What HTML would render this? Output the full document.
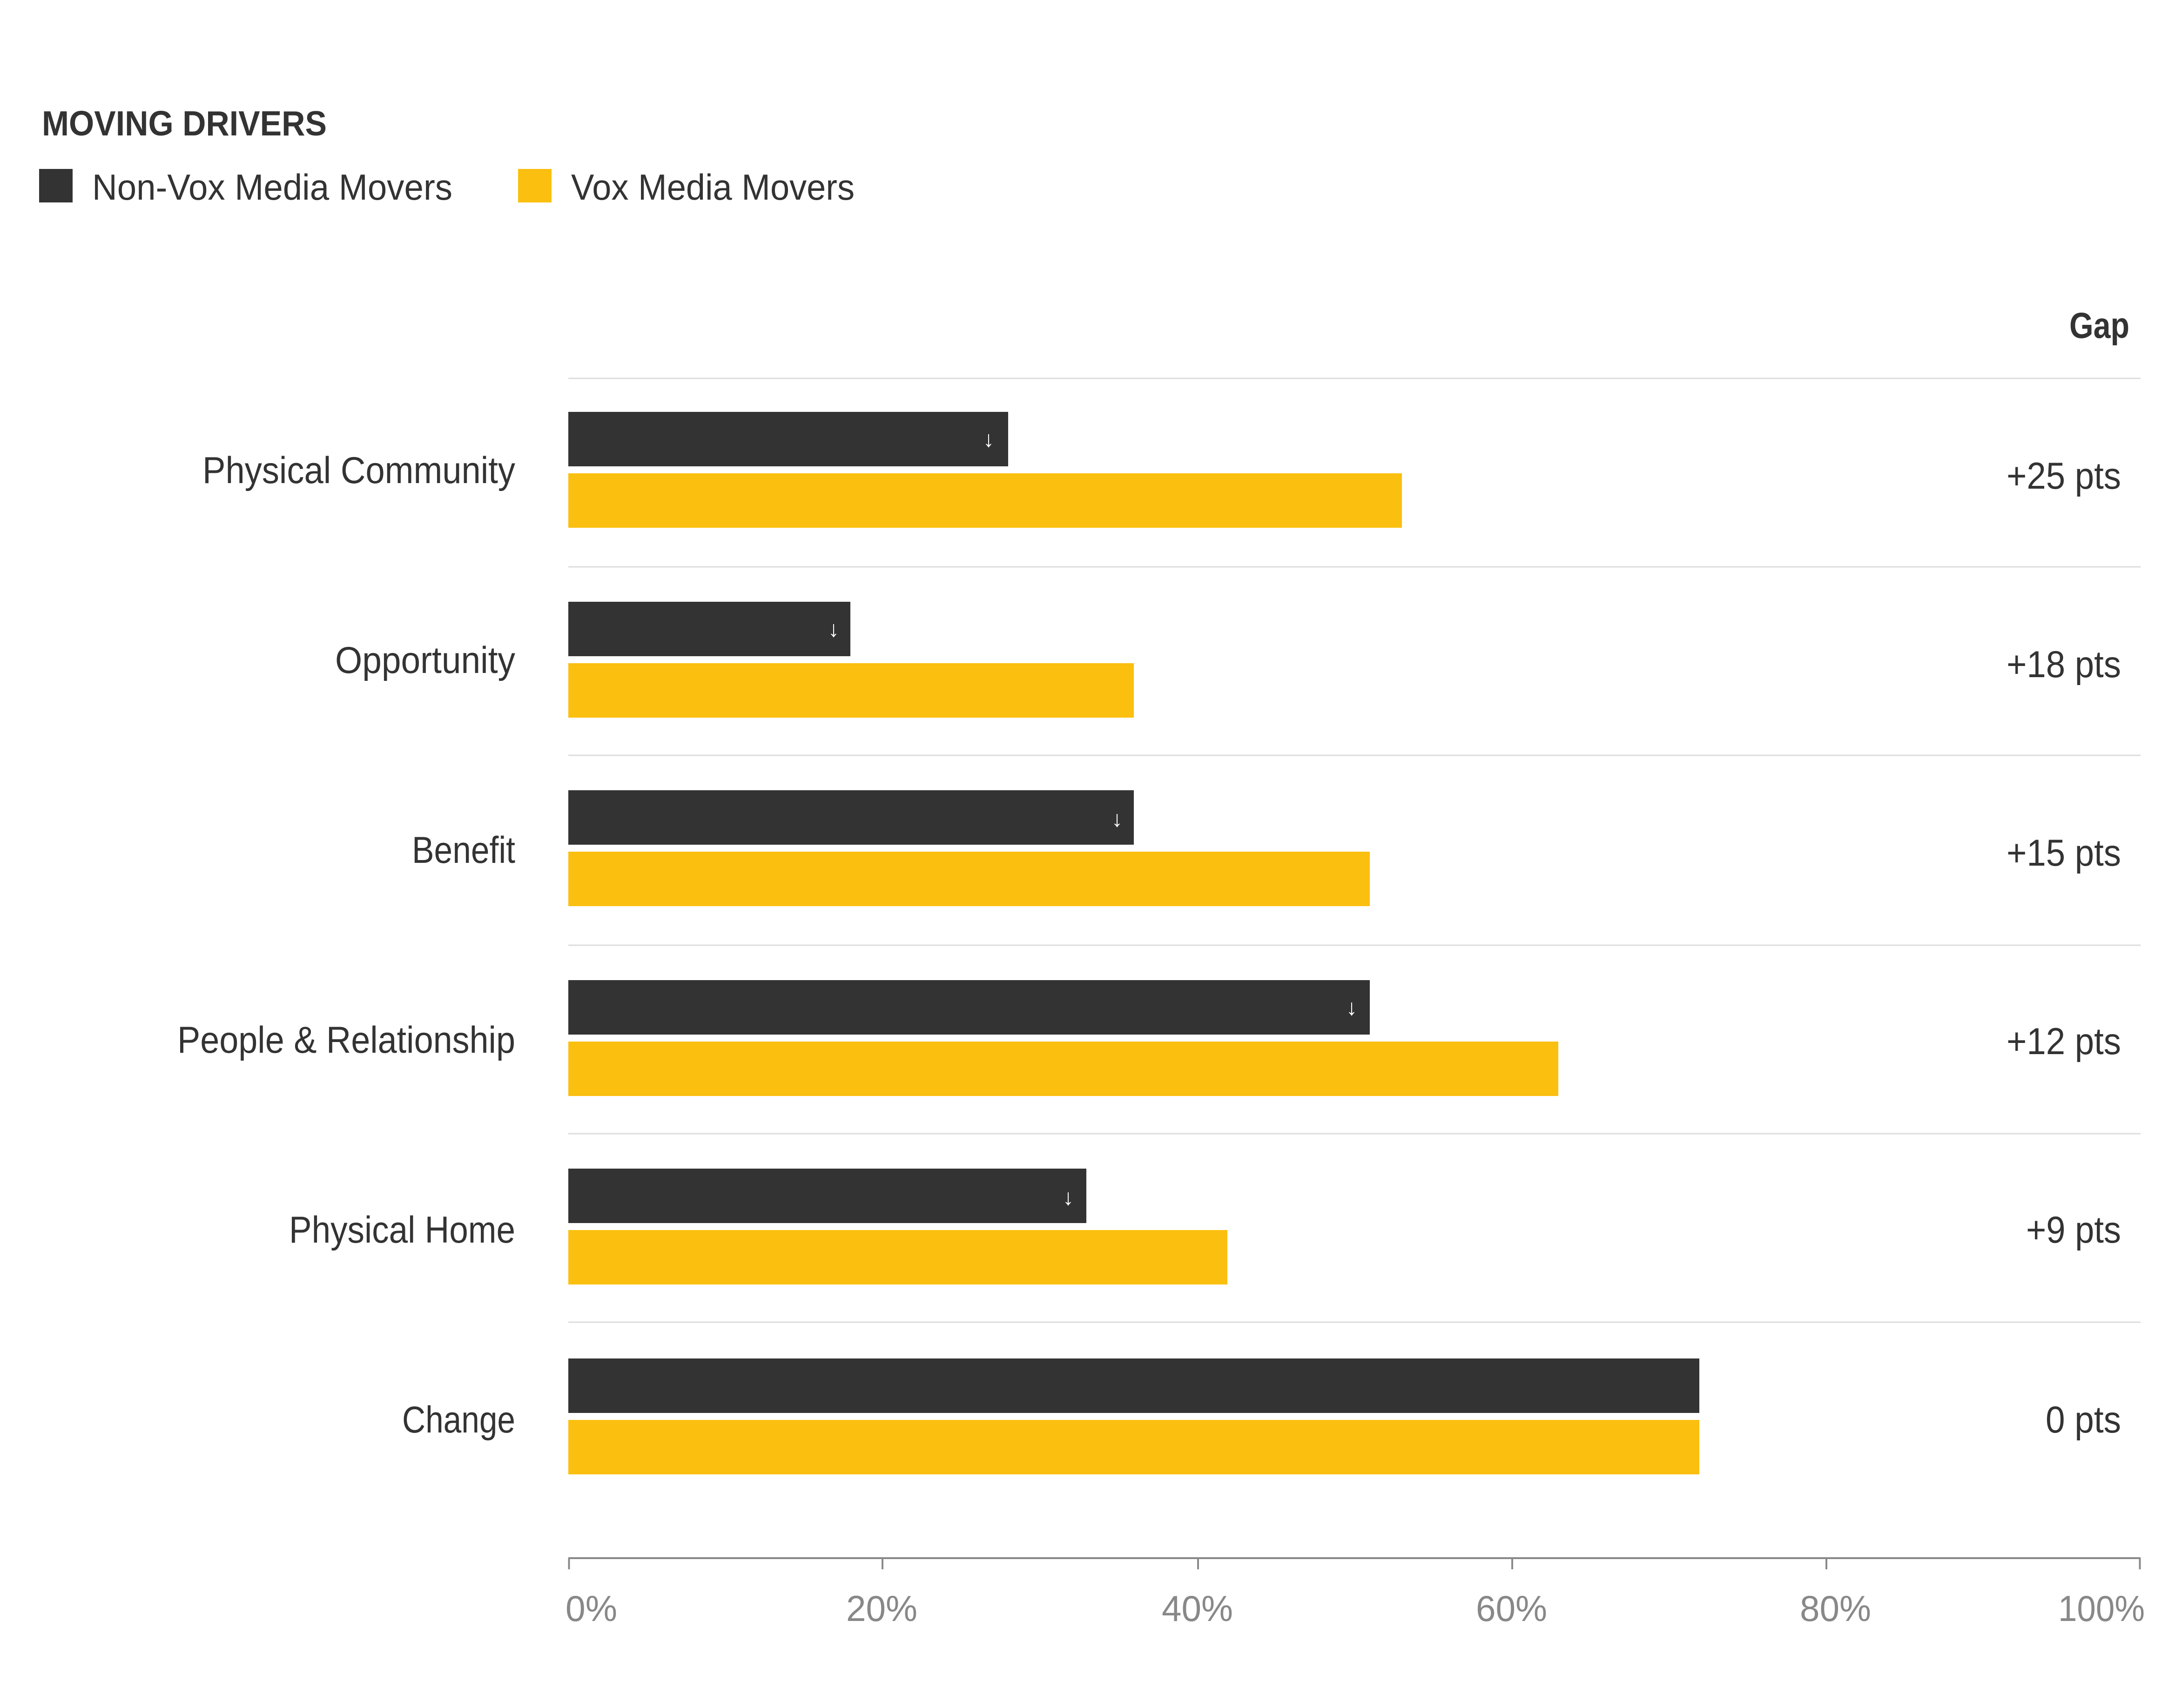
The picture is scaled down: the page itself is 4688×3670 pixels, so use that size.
<!DOCTYPE html>
<html><head><meta charset="utf-8"><style>
html,body{margin:0;padding:0;background:#fff}
svg{display:block}
text{font-family:"Liberation Sans Narrow","Liberation Sans",sans-serif;}
</style></head><body>
<svg width="4688" height="3670" viewBox="0 0 1562.67 1223.33" xmlns="http://www.w3.org/2000/svg">
<rect width="1562.67" height="1223.33" fill="#fff"/>
<text x="30" y="97" font-size="25" font-weight="bold" fill="#333" textLength="204" lengthAdjust="spacingAndGlyphs">MOVING DRIVERS</text>
<rect x="28" y="121" width="24" height="24" fill="#333"/>
<text x="66" y="143" font-size="26" fill="#333" textLength="258" lengthAdjust="spacingAndGlyphs">Non-Vox Media Movers</text>
<rect x="371" y="121" width="24" height="24" fill="#FBBF10"/>
<text x="409" y="143" font-size="26" fill="#333" textLength="203" lengthAdjust="spacingAndGlyphs">Vox Media Movers</text>
<text x="1482" y="242" font-size="26" font-weight="bold" fill="#333" textLength="43" lengthAdjust="spacingAndGlyphs">Gap</text>
<g stroke="#ddd" stroke-width="1">
<line x1="407" x2="1533" y1="271" y2="271"/><line x1="407" x2="1533" y1="406" y2="406"/>
<line x1="407" x2="1533" y1="541" y2="541"/><line x1="407" x2="1533" y1="677" y2="677"/>
<line x1="407" x2="1533" y1="812" y2="812"/><line x1="407" x2="1533" y1="947" y2="947"/>
</g>
<g fill="#333">
<rect x="407" y="295" width="315" height="39"/>
<rect x="407" y="431" width="202" height="39"/>
<rect x="407" y="566" width="405" height="39"/>
<rect x="407" y="702" width="574" height="39"/>
<rect x="407" y="837" width="371" height="39"/>
<rect x="407" y="973" width="810" height="39"/>
</g>
<g fill="#FBBF10">
<rect x="407" y="339" width="597" height="39"/>
<rect x="407" y="475" width="405" height="39"/>
<rect x="407" y="610" width="574" height="39"/>
<rect x="407" y="746" width="709" height="39"/>
<rect x="407" y="881" width="472" height="39"/>
<rect x="407" y="1017" width="810" height="39"/>
</g>
<g fill="#fff" font-size="16" text-anchor="middle">
<text x="708" y="320">↓</text><text x="597" y="456">↓</text><text x="800" y="592">↓</text>
<text x="968" y="727">↓</text><text x="765" y="863">↓</text>
</g>
<g fill="#333" font-size="27" lengthAdjust="spacingAndGlyphs">
<text x="145" y="346" textLength="224" lengthAdjust="spacingAndGlyphs">Physical Community</text>
<text x="240" y="482" textLength="129" lengthAdjust="spacingAndGlyphs">Opportunity</text>
<text x="295" y="618" textLength="74" lengthAdjust="spacingAndGlyphs">Benefit</text>
<text x="127" y="754" textLength="242" lengthAdjust="spacingAndGlyphs">People &amp; Relationship</text>
<text x="207" y="890" textLength="162" lengthAdjust="spacingAndGlyphs">Physical Home</text>
<text x="288" y="1026" textLength="81" lengthAdjust="spacingAndGlyphs">Change</text>
</g>
<g fill="#333" font-size="27">
<text x="1437" y="350" textLength="82" lengthAdjust="spacingAndGlyphs">+25 pts</text>
<text x="1437" y="485" textLength="82" lengthAdjust="spacingAndGlyphs">+18 pts</text>
<text x="1437" y="620" textLength="82" lengthAdjust="spacingAndGlyphs">+15 pts</text>
<text x="1437" y="755" textLength="82" lengthAdjust="spacingAndGlyphs">+12 pts</text>
<text x="1451" y="890" textLength="68" lengthAdjust="spacingAndGlyphs">+9 pts</text>
<text x="1465" y="1026" textLength="54" lengthAdjust="spacingAndGlyphs">0 pts</text>
</g>
<g stroke="#888" stroke-width="1.3">
<line x1="407" x2="1533" y1="1116" y2="1116"/>
<line x1="407.5" x2="407.5" y1="1116" y2="1124"/><line x1="632" x2="632" y1="1116" y2="1124"/>
<line x1="858" x2="858" y1="1116" y2="1124"/><line x1="1083" x2="1083" y1="1116" y2="1124"/>
<line x1="1308" x2="1308" y1="1116" y2="1124"/><line x1="1532.5" x2="1532.5" y1="1116" y2="1124"/>
</g>
<g fill="#888" font-size="26">
<text x="405" y="1161" textLength="37" lengthAdjust="spacingAndGlyphs">0%</text>
<text x="606" y="1161" textLength="51" lengthAdjust="spacingAndGlyphs">20%</text>
<text x="832" y="1161" textLength="51" lengthAdjust="spacingAndGlyphs">40%</text>
<text x="1057" y="1161" textLength="51" lengthAdjust="spacingAndGlyphs">60%</text>
<text x="1289" y="1161" textLength="51" lengthAdjust="spacingAndGlyphs">80%</text>
<text x="1474" y="1161" textLength="62" lengthAdjust="spacingAndGlyphs">100%</text>
</g>
</svg>
</body></html>
